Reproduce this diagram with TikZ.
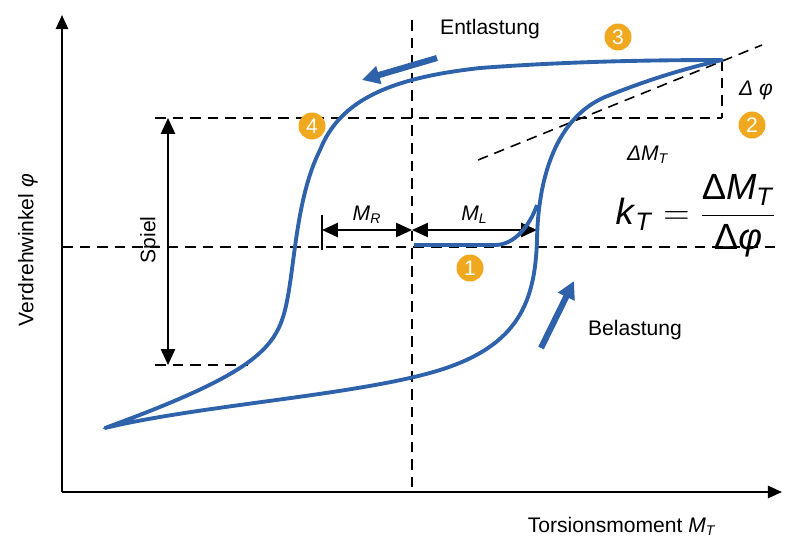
\documentclass[tikz,border=0pt]{standalone}
\usepackage{fontspec}
\setmainfont{Liberation Sans}
\usetikzlibrary{arrows.meta}
\definecolor{curveblue}{RGB}{46,98,170}
\definecolor{markorange}{RGB}{240,168,30}
\newcommand\symsub[2]{\textit{#1}\textsubscript{\textit{#2}}}
\begin{document}
\begin{tikzpicture}[x=0.02cm,y=-0.02cm]

\tikzset{stage/.style = {shape=circle,fill=markorange,text=white,minimum size=0.54cm,inner sep=0pt,font=\large}}
\tikzset{helper/.style = {line width=0.9pt,dash pattern=on 6pt off 4pt}}
\tikzset{dim/.style = {{Triangle[length=9pt,width=8pt]}-{Triangle[length=9pt,width=8pt]},line width=1.1pt}}
\tikzset{hint/.style = {-{Triangle[length=10pt,width=10pt]},line width=3.5pt,curveblue}}
\useasboundingbox (0,0) rectangle (800,558);
%axes
\coordinate (o) at (62,492);
\coordinate (ytop) at (62,15);
\coordinate (xend) at (782,492);
\draw [-{Triangle[length=8pt,width=7pt]},line width=1pt] (o) -- (ytop);
\draw [-{Triangle[length=8pt,width=7pt]},line width=1pt] (o) -- (xend);
\node [rotate=90,font=\large] (ylab) at (28,250) {Verdrehwinkel \textit{φ}};
\node [font=\large] (xlab) at (622,526) {Torsionsmoment \symsub{M}{T}};
%helper lines
\coordinate (vtop) at (412,20);
\coordinate (vbot) at (412,492);
\coordinate (h0l) at (62,247);
\coordinate (h0r) at (780,247);
\coordinate (h1l) at (155,118);
\coordinate (h1r) at (722,118);
\coordinate (peak) at (722,60);
\coordinate (sl) at (478,160);
\coordinate (sr) at (762,45);
\coordinate (h2l) at (155,365);
\coordinate (h2r) at (248,365);
\draw [helper] (vtop) -- (vbot);
\draw [helper] (h0l) -- (h0r);
\draw [helper] (h1l) -- (h1r);
\draw [helper] (peak) -- (h1r);
\draw [helper] (sl) -- (sr);
\draw [helper] (h2l) -- (h2r);
%dimensions
\coordinate (sp1) at (168,118);
\coordinate (sp2) at (168,365);
\draw [dim] (sp1) -- (sp2);
\node [rotate=90,font=\large] (spiel) at (150,240) {Spiel};
\coordinate (mr) at (322,230);
\coordinate (m0) at (412,230);
\coordinate (ml) at (537,230);
\draw [line width=1pt] (322,215) -- (322,250);
\draw [dim] (mr) -- (m0) node [midway,above,font=\large] {\symsub{M}{R}};
\draw [dim] (m0) -- (ml) node [midway,above,font=\large] {\symsub{M}{L}};
%curve
\draw [curveblue,line width=2.2pt,line join=round]
  (105,428) .. controls (200,405) and (360,395) .. (440,370)
  .. controls (520,345) and (535,300) .. (537,240)
  .. controls (538,180) and (555,115) .. (610,95)
  .. controls (660,75) and (700,65) .. (722,60)
  .. controls (640,60) and (560,62) .. (480,68)
  .. controls (390,78) and (340,100) .. (320,150)
  .. controls (295,200) and (295,270) .. (285,310)
  .. controls (275,350) and (250,375) .. (105,428) -- cycle;
\draw [curveblue,line width=2.2pt] (414,245) -- (495,245) .. controls (515,245) and (530,225) .. (537,205);
%arrows
\coordinate (e1) at (437,58);
\coordinate (e2) at (362,80);
\draw [hint] (e1) -- (e2);
\coordinate (b1) at (541,348);
\coordinate (b2) at (574,281);
\draw [hint] (b1) -- (b2);
\node [font=\large] (ent) at (490,29) {Entlastung};
\node [font=\large] (bel) at (635,330) {Belastung};
%markers
\node [stage] (s1) at (470,268) {1};
\node [stage] (s2) at (752,125) {2};
\node [stage] (s3) at (618,37) {3};
\node [stage] (s4) at (312,126) {4};
%labels
\node [font=\large] (dphi) at (756,90) {\textit{Δ φ}};
\node [font=\large] (dmt) at (648,155) {\symsub{ΔM}{T}};
\node [font=\huge] (kt) at (696,216) {\symsub{k}{T} $=\displaystyle\frac{\mbox{Δ\symsub{M}{T}}}{\mbox{Δ\textit{φ}}}$};

\end{tikzpicture}
\end{document}
